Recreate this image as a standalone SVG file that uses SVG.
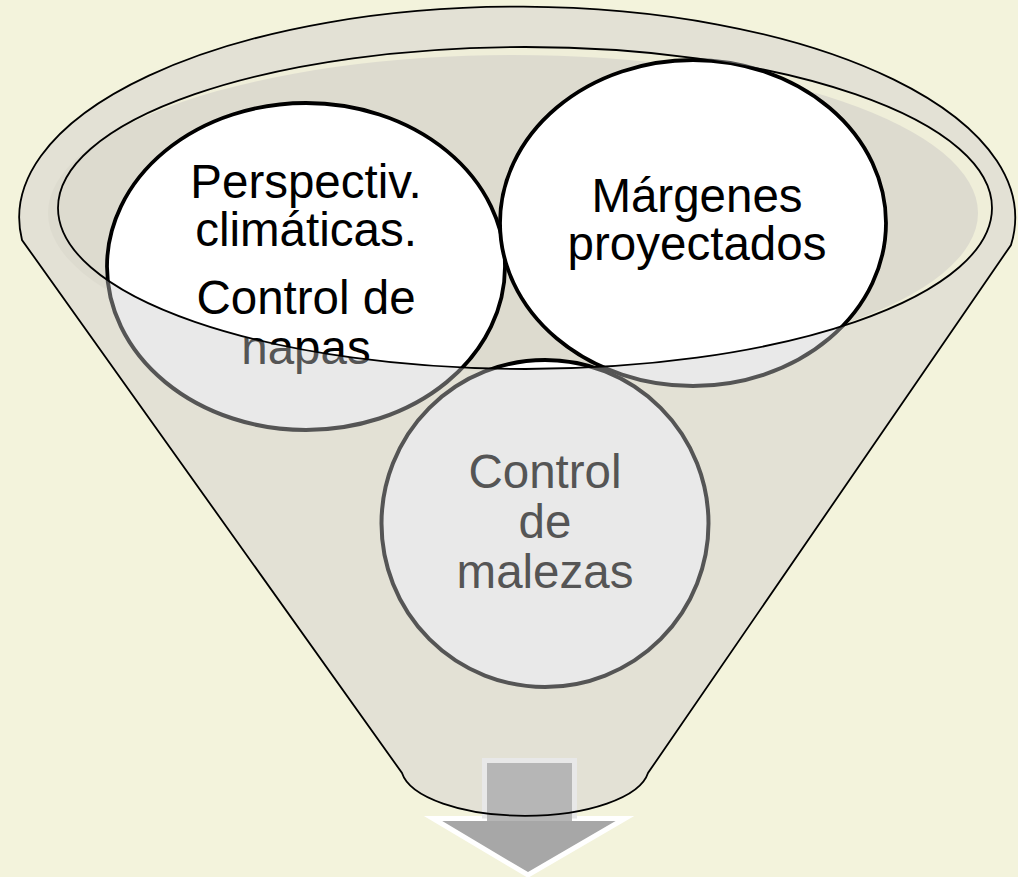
<svg xmlns="http://www.w3.org/2000/svg" width="1018" height="877" viewBox="0 0 1018 877">
<defs>
<style>
.t{font-family:"Liberation Sans",Arial,sans-serif;font-size:47.5px;text-anchor:middle}
.in .sh{fill:#ffffff;stroke:#000000;stroke-width:3.8}
.in text{fill:#000000}
.out .sh{fill:#e9e9e9;stroke:#555555;stroke-width:4}
.out text{fill:#555555}
.line{fill:none;stroke:#000000;stroke-width:1.8}
</style>
<clipPath id="cin"><ellipse cx="525" cy="208" rx="467" ry="161"/></clipPath>
<clipPath id="cout"><path clip-rule="evenodd" d="M0,0H1018V877H0Z M58,208 A467 161 0 1 0 992,208 A467 161 0 1 0 58,208Z"/></clipPath>
</defs>
<rect width="1018" height="877" fill="#f3f3dc"/>
<g id="funnel">
<path d="M22,240 A498 211 0 1 1 1011,245 L648,773 A124 49 0 0 1 402,773 Z" fill="#e3e1d5"/>
<ellipse cx="525" cy="208" rx="467" ry="161" fill="#efeed9"/>
<ellipse cx="513" cy="213" rx="465" ry="158" fill="#dddbcf"/>
</g>
<g id="arrow">
<path d="M484.5,760.5 H574.5 V818.5 H625 L528,875 L433,818.5 H484.5 Z" fill="#a7a7a7" stroke="#ffffff" stroke-width="5" stroke-linejoin="miter"/>
<rect x="487" y="763" width="85" height="58" fill="#b6b6b6"/>
<path d="M484.5,818.5 V760.5 H574.5 V818.5" fill="none" stroke="#e8e8e8" stroke-width="5"/>
</g>
<g id="funnel-outline">
<path class="line" d="M22,240 A498 211 0 1 1 1011,245 L648,773 A124 49 0 0 1 402,773 Z"/>
</g>
<g id="node-perspectivas">
<g class="out" clip-path="url(#cout)">
<ellipse class="sh" cx="306" cy="266.5" rx="199" ry="163.5"/>
<text class="t" x="306" y="198">Perspectiv.</text>
<text class="t" x="306" y="246">climáticas.</text>
<text class="t" x="306" y="314">Control de</text>
<text class="t" x="306" y="364">napas</text>
</g>
<g class="in" clip-path="url(#cin)">
<ellipse class="sh" cx="306" cy="266.5" rx="199" ry="163.5"/>
<text class="t" x="306" y="198">Perspectiv.</text>
<text class="t" x="306" y="246">climáticas.</text>
<text class="t" x="306" y="314">Control de</text>
<text class="t" x="306" y="364">napas</text>
</g>
</g>
<g id="node-margenes">
<g class="out" clip-path="url(#cout)">
<ellipse class="sh" cx="693" cy="223" rx="193" ry="163"/>
<text class="t" x="697" y="212">Márgenes</text>
<text class="t" x="697" y="260">proyectados</text>
</g>
<g class="in" clip-path="url(#cin)">
<ellipse class="sh" cx="693" cy="223" rx="193" ry="163"/>
<text class="t" x="697" y="212">Márgenes</text>
<text class="t" x="697" y="260">proyectados</text>
</g>
</g>
<g id="node-malezas">
<g class="out" clip-path="url(#cout)">
<circle class="sh" cx="545" cy="523.5" r="163.5"/>
<text class="t" x="545" y="488">Control</text>
<text class="t" x="545" y="538">de</text>
<text class="t" x="545" y="588">malezas</text>
</g>
<g class="in" clip-path="url(#cin)">
<circle class="sh" cx="545" cy="523.5" r="163.5"/>
<text class="t" x="545" y="488">Control</text>
<text class="t" x="545" y="538">de</text>
<text class="t" x="545" y="588">malezas</text>
</g>
</g>
<g id="rim">
<ellipse class="line" cx="525" cy="208" rx="467" ry="161"/>
</g>
</svg>
